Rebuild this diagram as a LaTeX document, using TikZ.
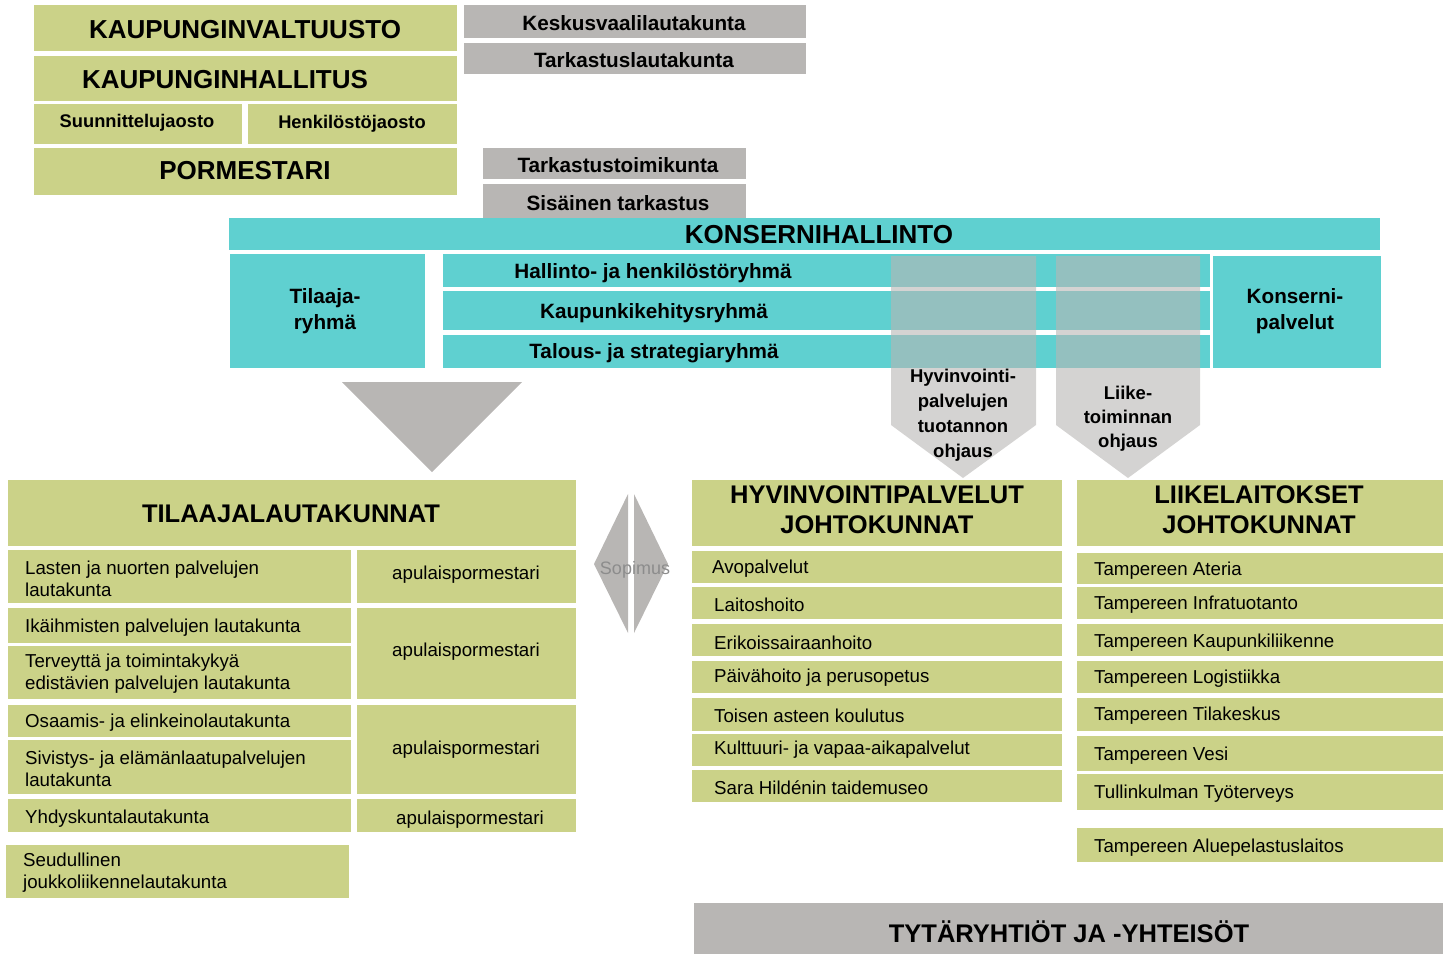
\documentclass[tikz,border=0pt]{standalone}
\usepackage{fontspec}
\setmainfont{Liberation Sans}
\definecolor{lgreen}{RGB}{203,210,136}
\definecolor{tealc}{RGB}{95,208,208}
\definecolor{lgray}{RGB}{184,182,180}
\definecolor{sopc}{RGB}{140,140,140}
\newcommand\BX[6]{\node[#1, minimum width={(#5)-(#3)}, minimum height={(#6)-(#4)}] (#2) at (#3,#4) {};}
\tikzset{
  base/.style={inner sep=0pt, outer sep=0pt, anchor=north west, draw=none},
  gr/.style={base, fill=lgreen},
  tl/.style={base, fill=tealc},
  gy/.style={base, fill=lgray},
  big/.style={inner sep=0pt, font=\bfseries\fontsize{26}{28}\selectfont},
  mid/.style={inner sep=0pt, yshift=-1.5pt, font=\bfseries\fontsize{20.7}{26}\selectfont, align=center},
  sm/.style={inner sep=0pt, font=\bfseries\fontsize{18.3}{20}\selectfont},
  reg/.style={inner sep=0pt, yshift=-2pt, font=\fontsize{18.7}{22}\selectfont, align=left, anchor=west},
  regc/.style={inner sep=0pt, yshift=-2pt, font=\fontsize{18.7}{22}\selectfont},
  head/.style={inner sep=0pt, font=\bfseries\fontsize{25.5}{30}\selectfont, align=center},
  arr/.style={fill=lgray, fill opacity=0.6, draw=none},
}
\begin{document}
\begin{tikzpicture}[x=1pt,y=-1pt]
\useasboundingbox (0,0) rectangle (1453,954);
% top left block
\BX{gr}{kv}{34}{5}{457}{51}
\BX{gr}{kh}{34}{56}{457}{101}
\BX{gr}{sj}{34}{104}{242}{144}
\BX{gr}{hj}{248}{104}{457}{144}
\BX{gr}{pm}{34}{148}{457}{195}
\node[big] (kvt) at (245,30) {KAUPUNGINVALTUUSTO};
\node[big] (kht) at (225,80) {KAUPUNGINHALLITUS};
\node[sm] (sjt) at (137,123) {Suunnittelujaosto};
\node[sm] (hjt) at (352,124) {Henkilöstöjaosto};
\node[big] (pmt) at (245,171) {PORMESTARI};
% gray top boxes
\BX{gy}{kvl}{464}{5}{806}{38}
\BX{gy}{tlk}{464}{43}{806}{74}
\BX{gy}{ttk}{483}{148}{746}{179}
\BX{gy}{sta}{483}{184}{746}{218}
\node[mid] (kvlt) at (634,22) {Keskusvaalilautakunta};
\node[mid] (tlkt) at (634,59) {Tarkastuslautakunta};
\node[mid] (ttkt) at (618,164) {Tarkastustoimikunta};
\node[mid] (stat) at (618,202) {Sisäinen tarkastus};
% konsernihallinto
\BX{tl}{kon}{229}{218}{1380}{250}
\node[big] (kont) at (819,235) {KONSERNIHALLINTO};
\BX{tl}{tr}{230}{254}{425}{368}
\BX{tl}{hh}{443}{254}{1210}{287}
\BX{tl}{kk}{443}{291}{1210}{330}
\BX{tl}{ts}{443}{335}{1210}{368}
\BX{tl}{kp}{1213}{256}{1381}{368}
\node[mid] (trt) at (325,310) {Tilaaja-\\ryhmä};
\node[mid] (hht) at (653,272) {Hallinto- ja henkilöstöryhmä};
\node[mid] (kkt) at (654,312) {Kaupunkikehitysryhmä};
\node[mid] (tst) at (654,352) {Talous- ja strategiaryhmä};
\node[mid] (kpt) at (1295,310) {Konserni-\\palvelut};
% steering arrows
\path[arr] (891,256) -- (1036,256) -- (1036,425) -- (963,478) -- (891,425) -- cycle;
\path[arr] (1056,256) -- (1200,256) -- (1200,425) -- (1128,478) -- (1056,425) -- cycle;
\node[mid, font=\bfseries\fontsize{18.5}{25}\selectfont] (h1t) at (963,414) {Hyvinvointi-\\palvelujen\\tuotannon\\ohjaus};
\node[mid, font=\bfseries\fontsize{18.5}{24}\selectfont] (h2t) at (1128,417) {Liike-\\toiminnan\\ohjaus};
% triangle
\fill[lgray] (342,382) -- (522,382) -- (432,472) -- cycle;
% tilaajalautakunnat
\BX{gr}{tla}{8}{480}{576}{546}
\node[head] (tlat) at (291,514) {TILAAJALAUTAKUNNAT};
\BX{gr}{l1}{8}{550}{351}{603}
\BX{gr}{l2}{8}{608}{351}{643}
\BX{gr}{l3}{8}{646}{351}{699}
\BX{gr}{l4}{8}{705}{351}{737}
\BX{gr}{l5}{8}{740}{351}{794}
\BX{gr}{l6}{8}{799}{351}{832}
\BX{gr}{l7}{6}{845}{349}{898}
\BX{gr}{a1}{357}{550}{576}{603}
\BX{gr}{a2}{357}{608}{576}{699}
\BX{gr}{a3}{357}{705}{576}{794}
\BX{gr}{a4}{357}{799}{576}{832}
\node[reg] (l1t) at (25,577) {Lasten ja nuorten palvelujen\\lautakunta};
\node[reg] (l2t) at (25,626) {Ikäihmisten palvelujen lautakunta};
\node[reg] (l3t) at (25,672) {Terveyttä ja toimintakykyä\\edistävien palvelujen lautakunta};
\node[reg] (l4t) at (25,721) {Osaamis- ja elinkeinolautakunta};
\node[reg] (l5t) at (25,767) {Sivistys- ja elämänlaatupalvelujen\\lautakunta};
\node[reg] (l6t) at (25,817) {Yhdyskuntalautakunta};
\node[reg] (l7t) at (23,871) {Seudullinen\\joukkoliikennelautakunta};
\node[regc] (a1t) at (466,573) {apulaispormestari};
\node[regc] (a2t) at (466,650) {apulaispormestari};
\node[regc] (a3t) at (466,748) {apulaispormestari};
\node[regc] (a4t) at (470,818) {apulaispormestari};
% sopimus
\fill[lgray] (628,494) -- (628,633) -- (594,564) -- cycle;
\fill[lgray] (634,494) -- (634,633) -- (668,564) -- cycle;
\node[regc, font=\fontsize{18}{22}\selectfont, text=sopc] (sop) at (635,568) {Sopimus};
% hyvinvointipalvelut
\BX{gr}{hy}{692}{480}{1062}{546}
\node[head] (hyt) at (877,510) {HYVINVOINTIPALVELUT\\JOHTOKUNNAT};
\BX{gr}{h1}{692}{551}{1062}{583}
\BX{gr}{h2}{692}{587}{1062}{619}
\BX{gr}{h3}{692}{624}{1062}{656}
\BX{gr}{h4}{692}{661}{1062}{693}
\BX{gr}{h5}{692}{698}{1062}{731}
\BX{gr}{h6}{692}{734}{1062}{766}
\BX{gr}{h7}{692}{770}{1062}{802}
\node[reg] (h1x) at (712,567) {Avopalvelut};
\node[reg] (h2x) at (714,603) {Laitoshoito};
\node[reg] (h3x) at (714,641) {Erikoissairaanhoito};
\node[reg] (h4x) at (714,676) {Päivähoito ja perusopetus};
\node[reg] (h5x) at (714,714) {Toisen asteen koulutus};
\node[reg] (h6x) at (714,748) {Kulttuuri- ja vapaa-aikapalvelut};
\node[reg] (h7x) at (714,786) {Sara Hildénin taidemuseo};
% liikelaitokset
\BX{gr}{li}{1077}{480}{1443}{546}
\node[head] (lit) at (1259,510) {LIIKELAITOKSET\\JOHTOKUNNAT};
\BX{gr}{m1}{1077}{553}{1443}{584}
\BX{gr}{m2}{1077}{587}{1443}{619}
\BX{gr}{m3}{1077}{624}{1443}{656}
\BX{gr}{m4}{1077}{661}{1443}{693}
\BX{gr}{m5}{1077}{698}{1443}{731}
\BX{gr}{m6}{1077}{736}{1443}{771}
\BX{gr}{m7}{1077}{774}{1443}{810}
\BX{gr}{m8}{1077}{828}{1443}{862}
\node[reg] (m1t) at (1094,569) {Tampereen Ateria};
\node[reg] (m2t) at (1094,603) {Tampereen Infratuotanto};
\node[reg] (m3t) at (1094,641) {Tampereen Kaupunkiliikenne};
\node[reg] (m4t) at (1094,677) {Tampereen Logistiikka};
\node[reg] (m5t) at (1094,714) {Tampereen Tilakeskus};
\node[reg] (m6t) at (1094,754) {Tampereen Vesi};
\node[reg] (m7t) at (1094,792) {Tullinkulman Työterveys};
\node[reg] (m8t) at (1094,846) {Tampereen Aluepelastuslaitos};
% tytaryhtiot
\BX{gy}{ty}{694}{903}{1443}{954}
\node[head] (tyt) at (1069,932) {TYTÄRYHTIÖT JA -YHTEISÖT};
\end{tikzpicture}
\end{document}
